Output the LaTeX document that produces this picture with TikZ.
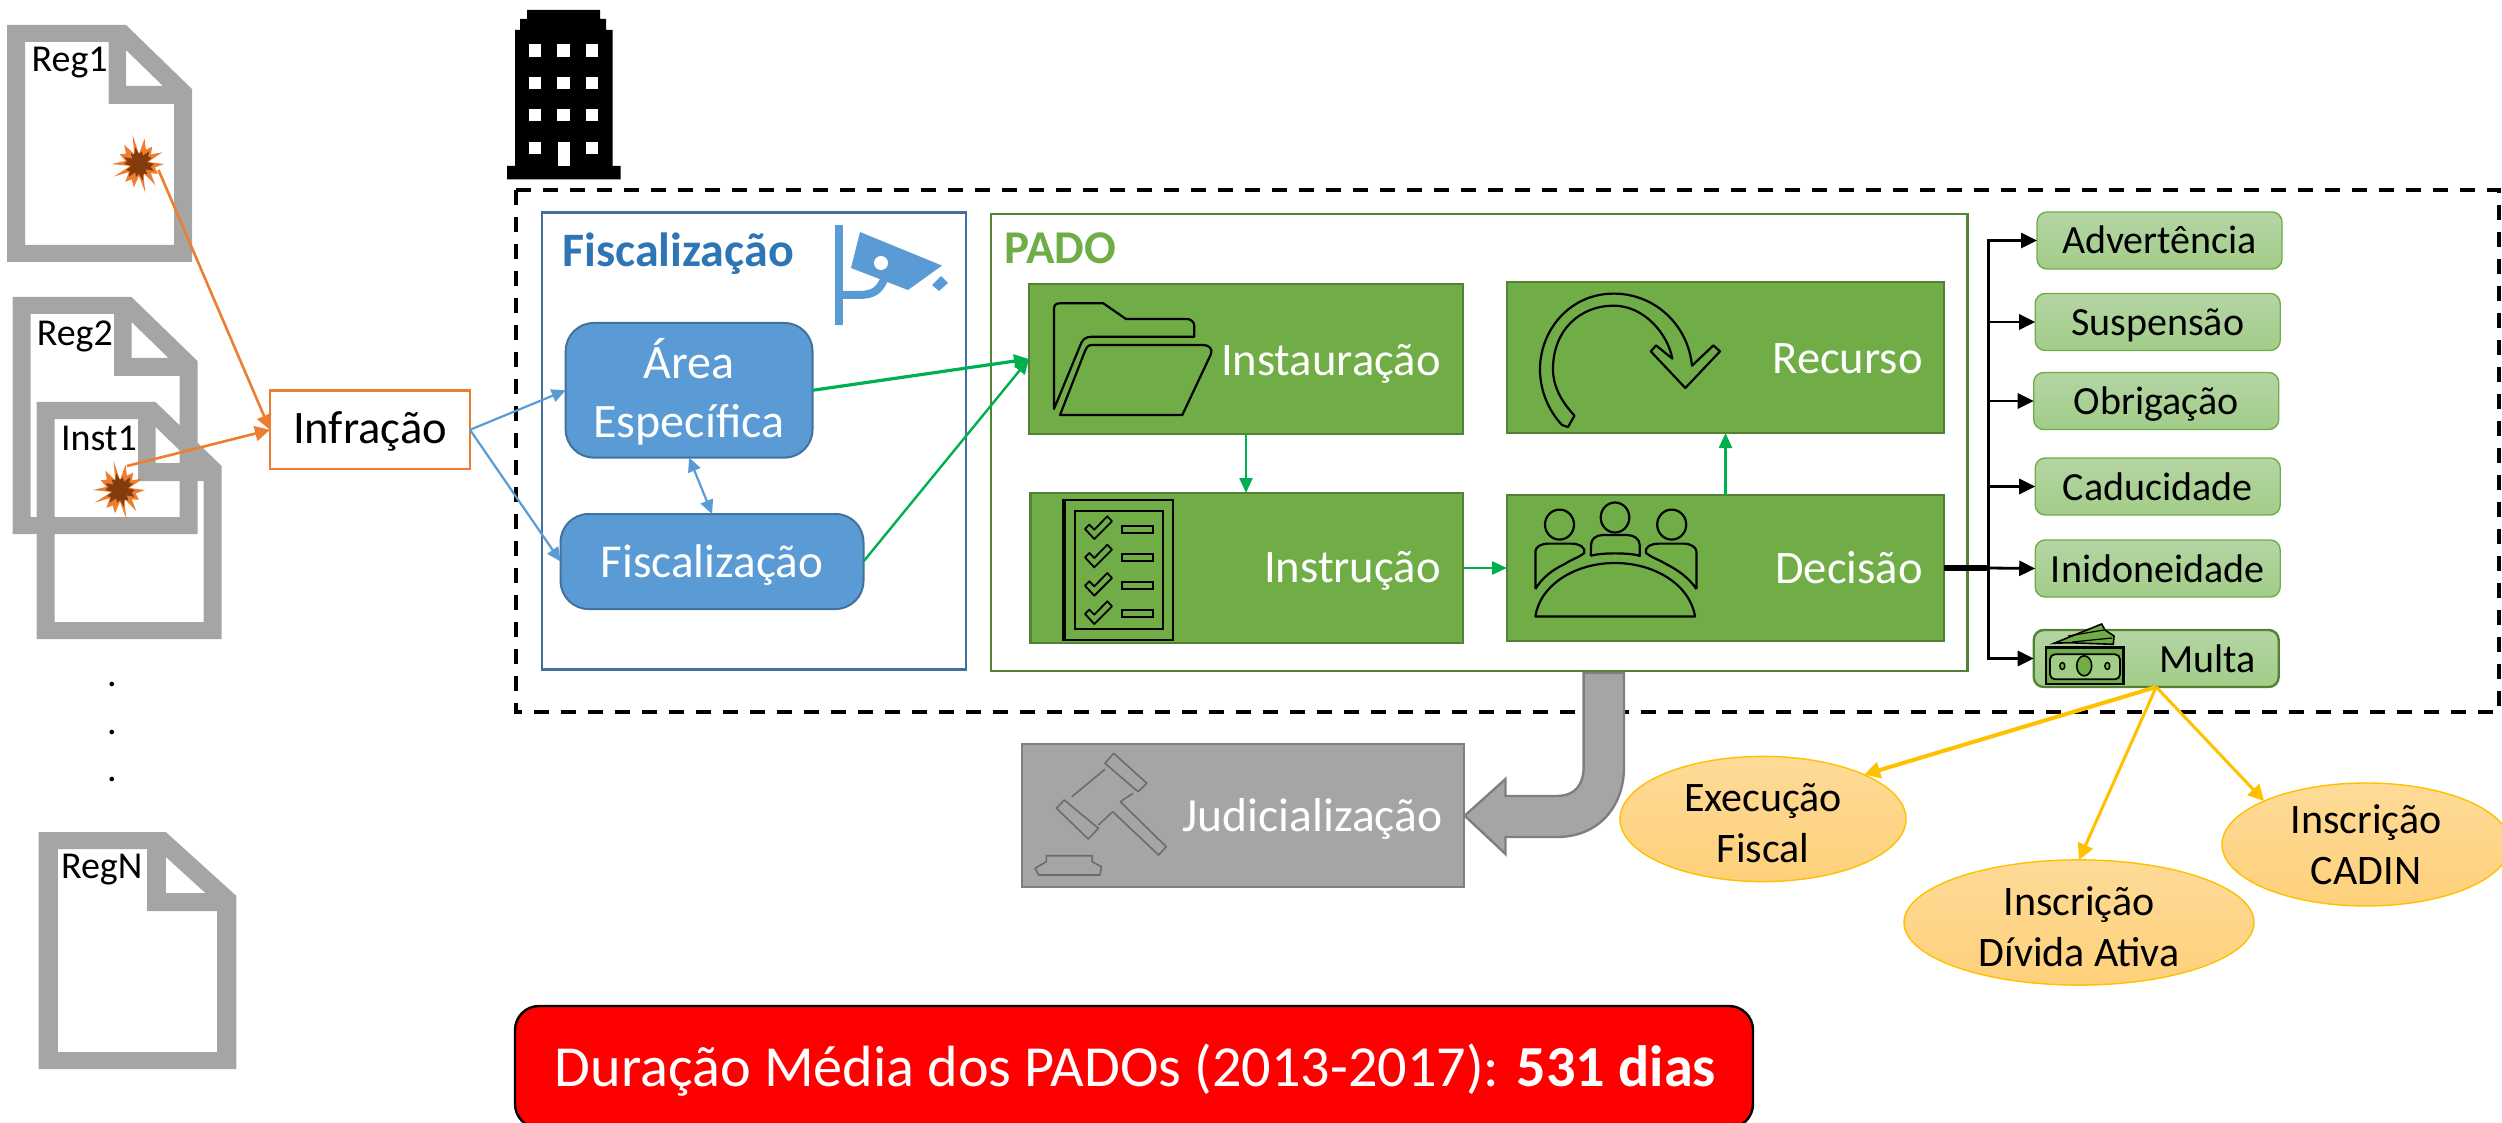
\documentclass[tikz,border=0pt]{standalone}
\usepackage{fontspec}
\setmainfont{Carlito}
\usetikzlibrary{arrows.meta,fit,shapes.geometric}
\definecolor{docgray}{HTML}{A5A5A5}
\definecolor{grayline}{HTML}{7F7F7F}
\definecolor{orangeA}{HTML}{ED7D31}
\definecolor{brownA}{HTML}{843C0C}
\definecolor{blueA}{HTML}{5B9BD5}
\definecolor{blueB}{HTML}{41719C}
\definecolor{blueT}{HTML}{2E75B6}
\definecolor{greenA}{HTML}{70AD47}
\definecolor{greenB}{HTML}{548235}
\definecolor{greenC}{HTML}{00B050}
\definecolor{yellowA}{HTML}{FFC000}
\definecolor{resTop}{HTML}{B5D5A5}
\definecolor{resBot}{HTML}{A2CD88}
\definecolor{ovalTop}{HTML}{FEDB98}
\definecolor{ovalBot}{HTML}{FED07A}
\tikzset{
  fs/.style={font=\fontsize{#1}{#1}\selectfont\setlength{\baselineskip}{1.22\baselineskip}},
  docicon/.pic={
    \fill[docgray,even odd rule] (0,0)--(119,0)--(185,64)--(185,237)--(0,237)--cycle
      (18,17)--(101.5,17)--(101.5,79)--(167,79)--(167,220)--(18,220)--cycle
      (119,25)--(119,61)--(156,61)--cycle;
  },
  burst/.pic={
    \fill[orangeA] plot[samples at={0,...,27},variable=\k]
      ({(25+4*sin(131*\k)-12*mod(\k,2))*cos(360/28*\k)},{(26+4*sin(131*\k)-13*mod(\k,2))*sin(360/28*\k)}) -- cycle;
    \fill[brownA] plot[samples at={0,...,27},variable=\k]
      ({(15+2*sin(77*\k)-5*mod(\k,2))*cos(360/28*\k)},{(15+2*sin(77*\k)-5*mod(\k,2))*sin(360/28*\k)}) -- cycle;
  },
  checkicon/.pic={
    \draw[black,line width=.9pt,line join=round] (0,1.7)--(4.3,-2.7)--(9.3,2.3)--(22.3,-11)--(27,-6)--(9.3,11.7)--cycle;
  },
  ibox/.style={draw=black,line width=1.1pt,line join=round},
  outerbox/.style={draw=#1,line width=1.2pt,inner sep=0pt,outer sep=0pt},
  bluebox/.style={rectangle,rounded corners=14pt,draw=blueB,line width=1pt,fill=blueA,inner sep=0pt,outer sep=0pt},
  greenbox/.style={rectangle,draw=greenB,line width=1.2pt,fill=greenA,inner sep=0pt,outer sep=0pt},
  lbl/.style={text=white,fs=23.3,inner sep=0pt,anchor=base east},
  result/.style={rectangle,rounded corners=5pt,draw=greenA,line width=.7pt,top color=resTop,bottom color=resBot,
     minimum width=122.5pt,minimum height=28.5pt,inner sep=0pt,outer sep=0pt,text=black,fs=20,text height=13.5pt,text depth=0pt},
  oval/.style={ellipse,draw=yellowA,line width=.7pt,top color=ovalTop,bottom color=ovalBot,inner sep=0pt,outer sep=0pt,align=center,text=black,fs=21},
  doctext/.style={fs=19,inner sep=0pt,anchor=base},
  oarr/.style={draw=orangeA,line width=1.3pt,-{Triangle[length=7.5pt,width=7.5pt]}},
  barr/.style={draw=blueA,line width=1.1pt,-{Triangle[length=7pt,width=6.5pt]}},
  garr/.style={draw=greenC,line width=#1,-{Triangle[length=7.5pt,width=6.5pt]}},
  karr/.style={draw=black,line width=1.4pt,-{Triangle[length=8pt,width=7.5pt]}},
  yarr/.style={draw=yellowA,line width=#1,-{Triangle[length=8pt,width=8pt]}},
}
\begin{document}
\begin{tikzpicture}[x=.5pt,y=-.5pt]
\useasboundingbox (0,0) rectangle (2502,1123);

% documents
\pic at (7,25) {docicon};
\pic at (12.5,297) {docicon};
\pic at (36.6,402) {docicon};
\pic[xscale=1.07] at (38.5,832) {docicon};
\node[doctext] (reg1) at (69.6,72) {Reg1};
\node[doctext] (reg2) at (74.8,346) {Reg2};
\node[doctext] (inst1) at (99,451) {Inst1};
\node[doctext] (regn) at (101.7,878) {RegN};
\node[doctext] (dota) at (112,686.5) {.};
\node[doctext] (dotb) at (112,734) {.};
\node[doctext] (dotc) at (112,781.5) {.};
\pic at (139,164) {burst};
\pic at (120,490) {burst};
\coordinate (star1) at (158.5,170);
\coordinate (star2) at (127,466);

% building
\fill[black] (507,166)--(515,166)--(515,30)--(520,30)--(520,19)--(527,19)--(527,10)--(600,10)--(600,19)--(606,19)--(606,30)--(612.5,30)--(612.5,166)--(620.5,166)--(620.5,179.5)--(507,179.5)--cycle;
\foreach \cx in {535,563.4,592}\foreach \cy in {50.5,83,115}
  \fill[white] (\cx-6.2,\cy-6.2) rectangle (\cx+6.2,\cy+6.2);
\fill[white] (528.8,142) rectangle (541.2,154.5);
\fill[white] (585.8,142) rectangle (598.2,154.5);
\fill[white] (557.6,142) rectangle (569.6,166);

% dashed frame
\draw[black,line width=2pt,dash pattern=on 7.5pt off 6pt] (516,190) rectangle (2499,712);

% Fiscalizacao group
\node[outerbox=blueB,rectangle,fit={(542,212.5)(966,669.6)}] (fiscgroup) {};
\node[fs=24,text=blueT,inner sep=0pt,anchor=base west] (fisctitle) at (562,266.5) {\bfseries Fiscalização};
\fill[blueA] (835,225) rectangle (842.5,325);
\fill[blueA] (860,232)--(942,265.6)--(908,290)--(851,268)--cycle;
\fill[blueA] (941,276)--(948,283)--(939,291)--(932,285)--cycle;
\fill[white] (881,263) circle[radius=7];
\draw[blueA,line width=4pt] (842,295)--(858,295) .. controls (875,295) and (880,290) .. (886,275);
\node[bluebox,fit={(565.7,323)(812.5,457.6)}] (area) {};
\node[text=white,fs=24,align=center,inner sep=0pt] (arealbl) at (689,392) {Área\\Específica};
\node[bluebox,fit={(560.6,514)(863.5,609)}] (fisc) {};
\node[text=white,fs=23.6,inner sep=0pt,anchor=base] (fisclbl) at (712,577) {Fiscalização};

% PADO group
\node[outerbox=greenB,rectangle,fit={(991,214)(1967.6,671)}] (padogroup) {};
\node[fs=23.5,text=greenA,inner sep=0pt,anchor=base west] (padotitle) at (1004,264) {\bfseries PADO};
\node[greenbox,fit={(1029,284)(1463,434)}] (inst) {};
\node[greenbox,fit={(1030.6,493)(1463,643)}] (instr) {};
\node[greenbox,fit={(1507,282)(1944,433)}] (rec) {};
\node[greenbox,fit={(1507,495)(1944,641)}] (dec) {};
\node[lbl] (instl) at (1441,376) {Instauração};
\node[lbl] (instrl) at (1441,582.6) {Instrução};
\node[lbl] (recl) at (1923,373) {Recurso};
\node[lbl] (decl) at (1923,583) {Decisão};

% folder icon
\draw[ibox] (1054,409)--(1054,309) .. controls (1054,305) and (1056,303.3) .. (1060,303.3)--(1103.3,303.3)--(1126,319)--(1186.7,319) .. controls (1191,319) and (1194.3,322) .. (1194.3,326)--(1194.3,336.7)--(1091.7,336.7) .. controls (1085,336.7) and (1082,340) .. (1080,346)--cycle;
\draw[ibox] (1060,415)--(1085,351) .. controls (1087,347) and (1088,345) .. (1092,345)--(1203.3,345) .. controls (1209,345) and (1213,349) .. (1211,354)--(1182.3,415)--cycle;

% checklist icon
\draw[black,line width=1.1pt] (1063.3,500) rectangle (1172.7,640);
\draw[black,line width=2pt] (1064,500)--(1064,640);
\draw[black,line width=1.1pt] (1075,510.7) rectangle (1162.7,629.3);
\foreach \cy in {527.3,555.7,584,612.3}
  \pic at (1085,\cy) {checkicon};
\foreach \cy in {529.3,557.3,585,613.3}
  \draw[black,line width=1pt] (1121.7,\cy-3.5) rectangle (1152.7,\cy+3.5);

% recurso icon
\draw[ibox] (1568,427)--(1574.5,415.7) .. controls (1560,400) and (1553,385) .. (1553,369) .. controls (1553,330) and (1580,305.7) .. (1613.6,305.7) .. controls (1645,305.7) and (1668,335) .. (1672.3,358.6)--(1656,345.4)--(1650.8,351.4)--(1685.3,388)--(1720,351.4)--(1713.4,345.4)--(1692,365.7) .. controls (1688,325) and (1655,293.6) .. (1613.6,293.6) .. controls (1570,293.6) and (1540,330) .. (1540,369.3) .. controls (1540,390) and (1548,410) .. (1562,425)--cycle;

% decisao icon
\draw[ibox] (1615,517.5) ellipse[x radius=14.3,y radius=15];
\draw[ibox] (1559.5,524.6) ellipse[x radius=14.5,y radius=15];
\draw[ibox] (1671.7,524.6) ellipse[x radius=14.5,y radius=15];
\draw[ibox] (1590.8,556)--(1591,545) .. controls (1591,539) and (1596,535) .. (1603,535)--(1627,535) .. controls (1634,535) and (1639.7,539) .. (1639.7,545)--(1639.7,556) .. controls (1632,552.5) and (1598,552.5) .. (1590.8,556);
\draw[ibox] (1535.4,589)--(1535.4,551.4) .. controls (1535.4,547) and (1541,543.6) .. (1548.4,543.6)--(1571,543.6) .. controls (1580,543.6) and (1586,548) .. (1584.3,553) .. controls (1578,558) and (1570,560) .. (1564.7,564) .. controls (1552,570) and (1542,578) .. (1535.4,589);
\draw[ibox] (1696.4,589)--(1696.4,551.4) .. controls (1696.4,547) and (1690,543.6) .. (1684,543.6)--(1659,543.6) .. controls (1650,543.6) and (1644,548) .. (1646,553) .. controls (1652,558) and (1660,560) .. (1666,564) .. controls (1678,570) and (1689,578) .. (1696.4,589);
\draw[ibox] (1535.4,616.4) .. controls (1540,585) and (1575,563) .. (1615,563) .. controls (1655,563) and (1690,585) .. (1695,616.4)--cycle;

% results
\node[result] (adv) at (2159.5,240.5) {Advertência};
\node[result] (sus) at (2157.7,322) {Suspensão};
\node[result] (obr) at (2156.2,401) {Obrigação};
\node[result] (cad) at (2157.7,486.5) {Caducidade};
\node[result] (ini) at (2157.7,568.5) {Inidoneidade};
\node[result,draw=greenB,line width=1.2pt] (mul) at (2156.2,658.5) {};
\node[text=black,fs=20,inner sep=0pt,anchor=base east] (mull) at (2256,672) {Multa};

% multa icon
\draw[black,line width=.8pt,fill=greenA] (2054,643.3)--(2101.7,624)--(2105,630)--(2114,636)--(2113.3,644.3)--(2068.3,642.7)--cycle;
\draw[black,line width=.6pt] (2068,636)--(2104,630) (2072,642)--(2112,638);
\draw[black,line width=1.2pt,fill=greenA] (2045.7,647.3) rectangle (2123.3,684);
\draw[black,line width=.9pt,fill=resBot,rounded corners=2.5pt] (2050,654.3) rectangle (2120,679.3);
\draw[black,line width=.8pt,fill=greenA] (2084.2,665.8) ellipse[x radius=7.5,y radius=10];
\draw[black,line width=.7pt,fill=greenA] (2062.3,666) ellipse[x radius=2.5,y radius=3.5];
\draw[black,line width=.7pt,fill=greenA] (2107.3,666) ellipse[x radius=2.5,y radius=3.5];

% Infracao
\node[rectangle,draw=orangeA,line width=1.3pt,fill=white,fit={(270,390.6)(470,469)},inner sep=0pt,outer sep=0pt] (infr) {};
\node[fs=23.3,inner sep=0pt,anchor=base] (infrl) at (370,444) {Infração};

% gray arrow & judicial
\node[rectangle,draw=grayline,line width=1.2pt,fill=docgray,fit={(1022,744)(1464,887)},inner sep=0pt,outer sep=0pt] (jud) {};
\node[text=white,fs=23.8,inner sep=0pt,anchor=base east] (judl) at (1443,831.6) {Judicialização};
\draw[fill=docgray,draw=grayline,line width=1.2pt,line join=miter] (1583.6,673)--(1583.6,767) .. controls (1583.6,785) and (1575,796) .. (1556.5,796)--(1505.5,796)--(1505.5,779)--(1464.7,815.7)--(1505.5,854)--(1505.5,837)--(1556.5,837) .. controls (1600,837) and (1624,805) .. (1624,767)--(1624,673)--cycle;
\begin{scope}[draw=grayline!85!black,line width=.8pt,line join=round]
\draw (1113.7,753.3)--(1146.8,783.3)--(1138,791.7)--(1105,763.3)--cycle;
\draw (1064.2,800)--(1098.4,828.3)--(1088.2,839)--(1056.5,808.3)--cycle;
\draw (1105,769.3)--(1071.8,796.7) (1098.4,825)--(1112.7,811.7) (1133,793.3)--(1120.3,801.7);
\draw (1120.3,801.7)--(1166.2,846.7)--(1158.6,855)--(1112.7,811.7);
\draw (1046.3,855.7)--(1092.2,855.7)--(1092.2,861.7)--(1101.4,866.7)--(1099.9,875)--(1038.7,875)--(1035,868.3)--(1046.3,861.7)--cycle;
\end{scope}

% ovals
\node[oval,minimum width=143pt,minimum height=62pt] (exe) at (1763,819) {\rule{0pt}{18.5pt}Execução\\Fiscal};
\node[oval,minimum width=175pt,minimum height=61.5pt] (div) at (2079,922.5) {\rule{0pt}{18.5pt}Inscrição\\Dívida Ativa};
\node[oval,minimum width=144pt,minimum height=61.5pt] (cdn) at (2366,844.5) {Inscrição\\CADIN};

% red box
\node[rectangle,rounded corners=12pt,draw=black,line width=1.2pt,fill=red,fit={(515,1006)(1753,1128)},inner sep=0pt,outer sep=0pt] (redb) {};
\node[text=white,fs=29.1,inner sep=0pt,anchor=base] (redl) at (1135.5,1086.7) {Duração Média dos PADOs (2013-2017): \textbf{531 dias}};

% connectors
\draw[oarr] (star1) -- (infr.west);
\draw[oarr] (star2) -- (infr.west);
\draw[barr] (infr.east) -- (area.west);
\draw[barr] (infr.east) -- (fisc.west);
\draw[draw=blueA,line width=1.1pt,{Triangle[length=7pt,width=6.5pt]}-{Triangle[length=7pt,width=6.5pt]}] (area.south) -- (fisc.north);
\draw[garr=1.6pt] (area.east) -- (inst.west);
\draw[garr=1.2pt] (fisc.east) -- (inst.west);
\draw[garr=1.2pt] (inst.south) -- (inst.south |- instr.north);
\draw[garr=1.4pt] (instr.east) -- (dec.west);
\draw[garr=1.2pt] (dec.north) -- (rec.south);
\coordinate (tr) at (1988.5,568);
\draw[black,line width=2.6pt] (dec.east) -- (tr);
\draw[karr] (tr) |- (adv.west);
\draw[karr] (tr) |- (sus.west);
\draw[karr] (tr) |- (obr.west);
\draw[karr] (tr) |- (cad.west);
\draw[karr] (tr) -- (ini.west);
\draw[karr] (tr) |- (mul.west);
\draw[yarr=2pt] (mul.south) -- (exe.north east);
\draw[yarr=1.5pt] (mul.south) -- (div.north);
\draw[yarr=1.5pt] (mul.south) -- (cdn.north west);
\end{tikzpicture}
\end{document}
